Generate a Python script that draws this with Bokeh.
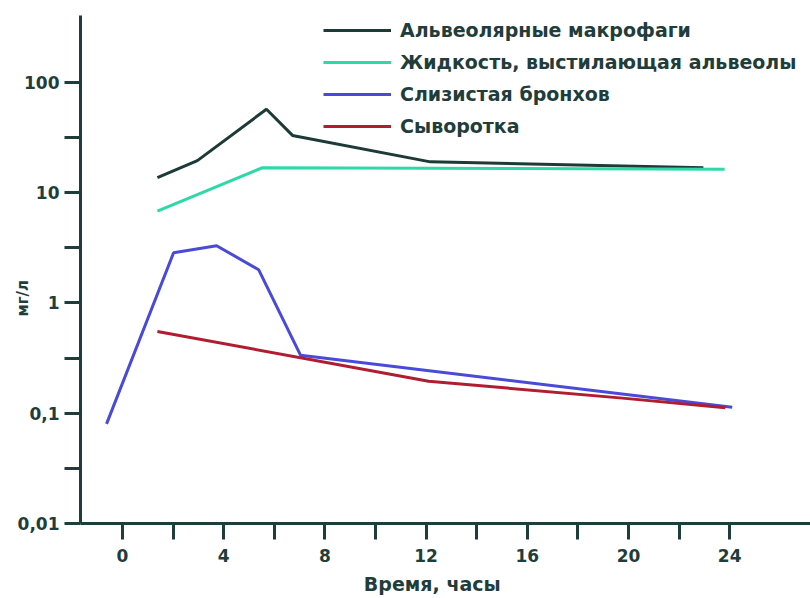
import math
from bokeh.plotting import figure
from bokeh.models import Range1d, FixedTicker, Legend, LegendItem
from bokeh.embed import file_html
from bokeh.resources import INLINE

# Data
t_macro = [1.38, 2.96, 5.69, 6.72, 12.17, 22.96]
macro = [13.7, 19.5, 57.0, 33.0, 19.0, 16.8]
t_fluid = [1.38, 5.53, 23.8]
fluid = [6.8, 16.8, 16.3]
t_mucosa = [-0.63, 2.02, 3.72, 5.38, 7.04, 24.1]
mucosa = [0.08, 2.85, 3.3, 2.0, 0.335, 0.113]
t_serum = [1.38, 12.1, 19.76, 23.83]
serum = [0.55, 0.195, 0.137, 0.112]

names = ["Альвеолярные макрофаги", "Жидкость, выстилающая альвеолы",
         "Слизистая бронхов", "Сыворотка"]
colors = ["#1c3a36", "#2ed8a8", "#4a4ad8", "#b01c30"]

x_ticks = [0, 4, 8, 12, 16, 20, 24]
x_minor = [2, 6, 10, 14, 18, 22]
y_ticks = [0.01, 0.1, 1, 10, 100]
y_labels = ["0,01", "0,1", "1", "10", "100"]
y_minor = [10 ** (k + 0.5) for k in range(-2, 2)]
x_title = "Время, часы"
y_title = "мг/л"

W, H = 810, 598
BL, BT, BB = 80, 15, 75
frame_w = W - BL
frame_h = H - BT - BB
px_per_hour = 25.3
px_per_dec = 110.3
x0 = -42 / px_per_hour
x1 = x0 + frame_w / px_per_hour
y1 = 10 ** (-2 + frame_h / px_per_dec)

AX = "#1f3d3a"
FONT = "DejaVu Sans"
NB = "\u00a0"

p = figure(width=W, height=H, y_axis_type="log", output_backend="svg",
           toolbar_location=None, x_range=Range1d(x0, x1), y_range=Range1d(0.01, y1),
           min_border_left=BL, min_border_right=0, min_border_top=BT, min_border_bottom=BB)
p.outline_line_color = None
p.grid.visible = False
p.background_fill_color = "white"
p.border_fill_color = "white"

for ax in (p.xaxis[0], p.yaxis[0]):
    ax.axis_line_color = AX
    ax.axis_line_width = 3
    ax.major_tick_line_color = AX
    ax.minor_tick_line_color = AX
    ax.major_tick_line_width = 3
    ax.minor_tick_line_width = 3
    ax.major_tick_in = 0
    ax.minor_tick_in = 0
    ax.major_label_text_font = FONT
    ax.major_label_text_font_style = "bold"
    ax.major_label_text_font_size = "17px"
    ax.major_label_text_color = AX
    ax.axis_label_text_font = FONT
    ax.axis_label_text_font_style = "bold"
    ax.axis_label_text_color = AX

p.xaxis.ticker = FixedTicker(ticks=x_ticks, minor_ticks=x_minor)
p.xaxis.major_tick_out = 16
p.xaxis.minor_tick_out = 16
p.xaxis.major_label_standoff = 9
p.xaxis.axis_label = x_title + NB * 4
p.xaxis.axis_label_text_font_size = "19px"
p.xaxis.axis_label_standoff = 8

p.yaxis.ticker = FixedTicker(ticks=y_ticks, minor_ticks=y_minor)
p.yaxis.major_label_overrides = {t: l for t, l in zip(y_ticks, y_labels)}
p.yaxis.major_tick_out = 16
p.yaxis.minor_tick_out = 16
p.yaxis.major_label_standoff = 5
p.yaxis.axis_label = y_title + NB * 11
p.yaxis.axis_label_text_font_size = "15px"
p.yaxis.axis_label_standoff = -17

series = [(t_macro, macro), (t_fluid, fluid), (t_mucosa, mucosa), (t_serum, serum)]
renderers = []
for (xs, ys), c in zip(series, colors):
    r = p.line(xs, ys, line_color=c, line_width=3)
    renderers.append(r)

GH, SP = 22, 10
legend_h = 4 * GH + 3 * SP
legend = Legend(items=[LegendItem(label=n, renderers=[r]) for n, r in zip(names, renderers)],
                location=(243, frame_h - 4 - legend_h), orientation="vertical")
legend.glyph_width = 68
legend.glyph_height = GH
legend.label_height = GH
legend.spacing = SP
legend.padding = 0
legend.margin = 0
legend.label_standoff = 9
legend.label_text_font = FONT
legend.label_text_font_style = "bold"
legend.label_text_font_size = "19px"
legend.label_text_color = AX
legend.background_fill_alpha = 0
legend.border_line_color = None
p.add_layout(legend, "center")

open("out.html", "w").write(file_html(p, INLINE))
